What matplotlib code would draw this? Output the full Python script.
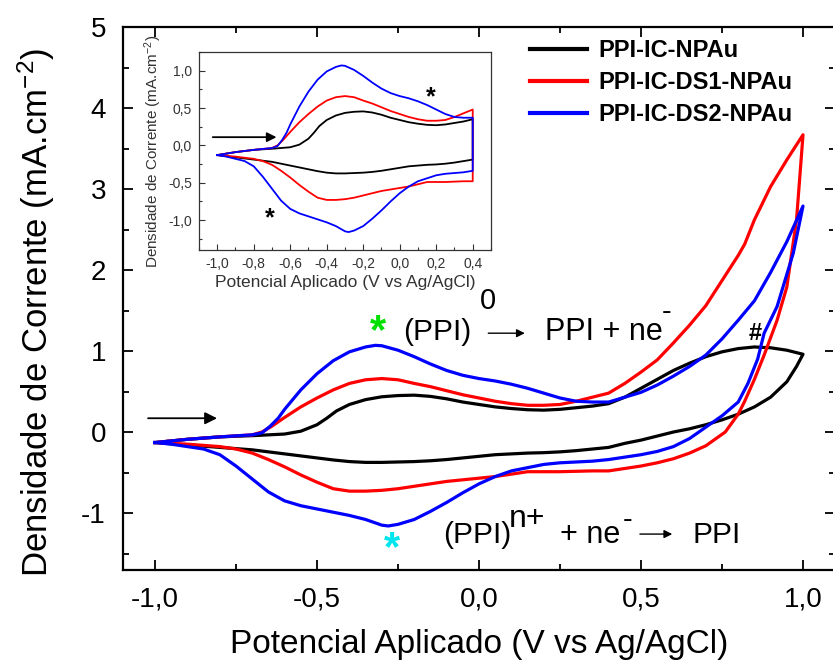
import numpy as np
import matplotlib.pyplot as plt
from matplotlib.ticker import MultipleLocator, FuncFormatter

plt.rcParams['font.family'] = ['Liberation Sans', 'DejaVu Sans']
plt.rcParams['mathtext.fontset'] = 'custom'
plt.rcParams['mathtext.rm'] = 'Liberation Sans'
plt.rcParams['mathtext.it'] = 'Liberation Sans:italic'
plt.rcParams['mathtext.bf'] = 'Liberation Sans:bold'

# --- data (V vs Ag/AgCl, mA/cm2) ---
# PPI-IC-NPAu
black_fwd_x = [-1.0, -0.9, -0.8, -0.7, -0.6, -0.55, -0.5, -0.47, -0.44, -0.4, -0.35, -0.3, -0.25, -0.2,
               -0.15, -0.1, -0.05, 0.0, 0.05, 0.1, 0.15, 0.2, 0.25, 0.3, 0.35, 0.4, 0.45, 0.5, 0.55, 0.6,
               0.65, 0.7, 0.75, 0.8, 0.85, 0.9, 0.95, 1.0]
black_fwd_y = [-0.13, -0.09, -0.06, -0.045, -0.025, 0.01, 0.09, 0.17, 0.26, 0.34, 0.40, 0.435, 0.45, 0.455,
               0.44, 0.41, 0.37, 0.34, 0.31, 0.29, 0.275, 0.27, 0.28, 0.30, 0.32, 0.35, 0.43, 0.54, 0.65,
               0.76, 0.85, 0.93, 0.99, 1.03, 1.05, 1.04, 1.01, 0.96]
black_rev_x = [1.0, 0.98, 0.95, 0.9, 0.85, 0.8, 0.75, 0.7, 0.65, 0.6, 0.55, 0.5, 0.45, 0.4, 0.35, 0.3,
               0.25, 0.2, 0.15, 0.1, 0.05, 0.0, -0.05, -0.1, -0.15, -0.2, -0.25, -0.3, -0.35, -0.4, -0.45,
               -0.5, -0.55, -0.6, -0.7, -0.8, -0.9, -1.0]
black_rev_y = [0.96, 0.81, 0.62, 0.43, 0.31, 0.22, 0.15, 0.09, 0.04, 0.0, -0.05, -0.10, -0.14, -0.19, -0.21,
               -0.23, -0.245, -0.255, -0.26, -0.27, -0.28, -0.30, -0.32, -0.34, -0.355, -0.365, -0.37,
               -0.375, -0.375, -0.365, -0.345, -0.32, -0.295, -0.27, -0.22, -0.19, -0.16, -0.13]

# PPI-IC-DS1-NPAu
red_fwd_x = [-1.0, -0.9, -0.8, -0.7, -0.67, -0.64, -0.6, -0.55, -0.5, -0.45, -0.4, -0.35, -0.3, -0.25,
             -0.2, -0.15, -0.1, -0.05, 0.0, 0.05, 0.1, 0.15, 0.2, 0.25, 0.3, 0.35, 0.4, 0.45, 0.5, 0.55,
             0.6, 0.65, 0.7, 0.75, 0.8, 0.82, 0.85, 0.9, 0.95, 1.0]
red_fwd_y = [-0.13, -0.09, -0.06, -0.035, 0.0, 0.07, 0.18, 0.31, 0.42, 0.52, 0.60, 0.645, 0.66, 0.645,
             0.60, 0.56, 0.51, 0.46, 0.42, 0.38, 0.35, 0.33, 0.33, 0.34, 0.38, 0.43, 0.48, 0.60, 0.74,
             0.89, 1.10, 1.32, 1.56, 1.87, 2.18, 2.32, 2.62, 3.03, 3.36, 3.67]
red_rev_x = [1.0, 0.98, 0.95, 0.92, 0.88, 0.85, 0.82, 0.8, 0.76, 0.7, 0.65, 0.6, 0.55, 0.5, 0.45, 0.4,
             0.35, 0.3, 0.25, 0.2, 0.15, 0.1, 0.05, 0.0, -0.05, -0.1, -0.15, -0.2, -0.25, -0.3, -0.35,
             -0.4, -0.45, -0.5, -0.55, -0.6, -0.65, -0.7, -0.75, -0.8, -0.9, -1.0]
red_rev_y = [3.67, 2.62, 1.79, 1.38, 0.95, 0.65, 0.38, 0.22, 0.0, -0.17, -0.26, -0.33, -0.38, -0.42, -0.45,
             -0.48, -0.48, -0.485, -0.49, -0.49, -0.49, -0.52, -0.55, -0.57, -0.59, -0.61, -0.64, -0.67,
             -0.70, -0.72, -0.73, -0.73, -0.70, -0.62, -0.53, -0.43, -0.34, -0.26, -0.21, -0.18, -0.15,
             -0.13]

# PPI-IC-DS2-NPAu
blue_fwd_x = [-1.0, -0.9, -0.8, -0.7, -0.67, -0.645, -0.62, -0.6, -0.55, -0.5, -0.45, -0.4, -0.35, -0.32,
              -0.3, -0.25, -0.2, -0.15, -0.1, -0.05, 0.0, 0.05, 0.1, 0.15, 0.2, 0.25, 0.3, 0.35, 0.4, 0.45,
              0.5, 0.55, 0.6, 0.65, 0.7, 0.75, 0.8, 0.85, 0.9, 0.95, 1.0]
blue_fwd_y = [-0.13, -0.09, -0.06, -0.035, -0.01, 0.07, 0.17, 0.28, 0.52, 0.72, 0.88, 0.99, 1.05, 1.07,
              1.065, 1.01, 0.93, 0.84, 0.76, 0.70, 0.66, 0.63, 0.59, 0.54, 0.48, 0.42, 0.38, 0.37, 0.37,
              0.43, 0.49, 0.58, 0.69, 0.81, 0.95, 1.15, 1.38, 1.62, 1.97, 2.35, 2.79]
blue_rev_x = [1.0, 0.97, 0.92, 0.88, 0.86, 0.83, 0.8, 0.75, 0.7, 0.65, 0.6, 0.55, 0.5, 0.45, 0.4, 0.35,
              0.3, 0.25, 0.2, 0.15, 0.1, 0.05, 0.0, -0.05, -0.1, -0.15, -0.2, -0.25, -0.28, -0.3, -0.35,
              -0.4, -0.45, -0.5, -0.55, -0.6, -0.65, -0.7, -0.75, -0.8, -0.85, -0.9, -0.95, -1.0]
blue_rev_y = [2.79, 2.21, 1.55, 1.22, 0.90, 0.60, 0.37, 0.20, 0.06, -0.08, -0.18, -0.24, -0.28, -0.31,
              -0.34, -0.36, -0.37, -0.38, -0.40, -0.44, -0.48, -0.55, -0.64, -0.75, -0.87, -0.98, -1.08,
              -1.14, -1.16, -1.15, -1.08, -1.03, -0.99, -0.95, -0.91, -0.85, -0.74, -0.58, -0.42, -0.28,
              -0.21, -0.18, -0.15, -0.13]

labels = ['PPI-IC-NPAu', 'PPI-IC-DS1-NPAu', 'PPI-IC-DS2-NPAu']
colors = ['black', '#ff0000', '#0000ff']
series = [(black_fwd_x, black_fwd_y, black_rev_x, black_rev_y),
          (red_fwd_x, red_fwd_y, red_rev_x, red_rev_y),
          (blue_fwd_x, blue_fwd_y, blue_rev_x, blue_rev_y)]

comma = FuncFormatter(lambda v, p: f'{v:.1f}'.replace('.', ','))

fig = plt.figure(figsize=(8.33, 6.64), dpi=100)
ax = fig.add_axes([0.1472, 0.142, 0.8557, 0.8173])

for (fx, fy, rx, ry), c, lab in zip(series, colors, labels):
    x = np.concatenate([fx, rx[1:]])
    y = np.concatenate([fy, ry[1:]])
    ax.plot(x, y, color=c, lw=2.3, label=lab, solid_joinstyle='round')

ax.set_xlim(-1.1, 1.1)
ax.set_ylim(-1.7, 5)
ax.xaxis.set_major_locator(MultipleLocator(0.5))
ax.xaxis.set_minor_locator(MultipleLocator(0.25))
ax.yaxis.set_major_locator(MultipleLocator(1))
ax.yaxis.set_minor_locator(MultipleLocator(0.5))
ax.xaxis.set_major_formatter(comma)
ax.yaxis.set_major_formatter(FuncFormatter(lambda v, p: f'{v:.0f}'))
ax.tick_params(which='both', direction='in', top=True, right=True, width=1.3)
ax.tick_params(which='major', length=7, labelsize=20, pad=12)
ax.tick_params(which='minor', length=4)
for s in ax.spines.values():
    s.set_linewidth(1.6)

ax.set_xlabel('Potencial Aplicado (V vs Ag/AgCl)', fontsize=24)
ax.set_ylabel('Densidade de Corrente (mA.cm$^{\\mathregular{-2}}$)', fontsize=25)
ax.xaxis.set_label_coords(0.5, -0.11)
ax.yaxis.set_label_coords(-0.092, 0.475)

leg = ax.legend(loc='upper left', bbox_to_anchor=(0.571, 0.978), frameon=False,
                prop={'weight': 'bold', 'size': 17}, handlelength=2.45, handletextpad=0.45,
                labelspacing=0.38, borderaxespad=0, borderpad=0)
for h in leg.get_lines():
    h.set_linewidth(3)

# annotations
ax.annotate('', xy=(-0.80, 0.17), xytext=(-1.03, 0.17),
            arrowprops=dict(arrowstyle='-|>', color='black', lw=1.3, mutation_scale=18))
ax.text(-0.312, 1.23, '*', color='#00e000', fontsize=30, fontweight='bold', ha='center', va='center')
ax.text(-0.235, 1.23, '(PPI)', fontsize=21.5, ha='left', va='center')
ax.text(0.028, 1.62, '0', fontsize=21, ha='center', va='center')
ax.annotate('', xy=(0.15, 1.22), xytext=(0.02, 1.22),
            arrowprops=dict(arrowstyle='-|>', color='black', lw=1.0, mutation_scale=12))
ax.text(0.204, 1.23, 'PPI + ne', fontsize=22, ha='left', va='center')
ax.text(0.58, 1.48, '-', fontsize=21, ha='center', va='center')
ax.text(0.852, 1.22, '#', fontsize=17, fontweight='bold', ha='center', va='center')

ax.text(-0.269, -1.44, '*', color='#00e5ee', fontsize=30, fontweight='bold', ha='center', va='center')
ax.text(-0.111, -1.27, '(PPI)', fontsize=21.5, ha='left', va='center')
ax.text(0.093, -1.07, 'n+', fontsize=23, ha='left', va='center')
ax.text(0.25, -1.27, '+ ne', fontsize=22, ha='left', va='center')
ax.text(0.457, -1.09, '-', fontsize=21, ha='center', va='center')
ax.annotate('', xy=(0.605, -1.26), xytext=(0.488, -1.26),
            arrowprops=dict(arrowstyle='-|>', color='black', lw=1.0, mutation_scale=12))
ax.text(0.66, -1.27, 'PPI', fontsize=21.5, ha='left', va='center')

# inset: same scans cut at 0.4 V
axi = fig.add_axes([0.2389, 0.6235, 0.3505, 0.2982])
for (fx, fy, rx, ry), c in zip(series, colors):
    fx, fy, rx, ry = map(np.asarray, (fx, fy, rx, ry))
    kf = fx <= 0.4 + 1e-9
    kr = rx <= 0.4 + 1e-9
    axi.plot(np.concatenate([fx[kf], rx[kr]]), np.concatenate([fy[kf], ry[kr]]), color=c, lw=1.3)

axi.set_xlim(-1.1, 0.5)
axi.set_ylim(-1.4, 1.25)
axi.xaxis.set_major_locator(MultipleLocator(0.2))
axi.xaxis.set_minor_locator(MultipleLocator(0.1))
axi.yaxis.set_major_locator(MultipleLocator(0.5))
axi.yaxis.set_minor_locator(MultipleLocator(0.25))
axi.xaxis.set_major_formatter(comma)
axi.yaxis.set_major_formatter(comma)
axi.tick_params(which='both', direction='in', width=0.8, colors='#333333', labelcolor='#333333')
axi.tick_params(which='major', length=4, labelsize=10, pad=5)
axi.tick_params(which='minor', length=2)
for s in axi.spines.values():
    s.set_linewidth(0.9)
    s.set_color('#333333')
axi.set_xlabel('Potencial Aplicado (V vs Ag/AgCl)', fontsize=12.5, color='#333333', labelpad=3)
axi.set_ylabel('Densidade de Corrente (mA.cm$^{\\mathregular{-2}}$)', fontsize=11, color='#333333', labelpad=3)
axi.annotate('', xy=(-0.66, 0.11), xytext=(-1.04, 0.11),
             arrowprops=dict(arrowstyle='-|>', color='black', lw=1.3, mutation_scale=14))
axi.text(0.17, 0.64, '*', fontsize=18, fontweight='bold', ha='center', va='center')
axi.text(-0.71, -0.98, '*', fontsize=18, fontweight='bold', ha='center', va='center')

plt.savefig('out.png', dpi=100)
